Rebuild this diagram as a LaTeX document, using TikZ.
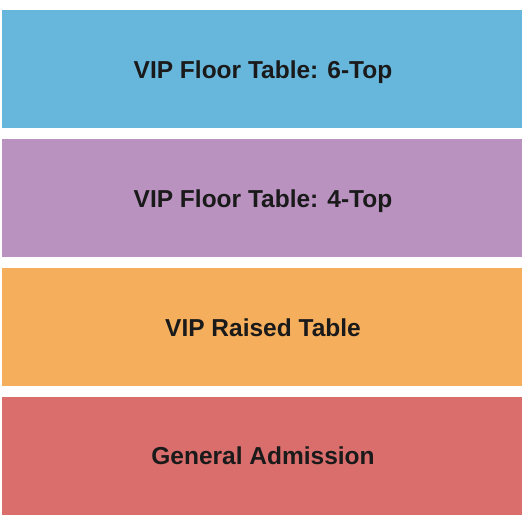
\documentclass[tikz,border=0pt]{standalone}
\usepackage{fontspec}
\setmainfont{Liberation Sans}
\definecolor{sixtop}{HTML}{67B6DC}
\definecolor{fourtop}{HTML}{B992C0}
\definecolor{raised}{HTML}{F5AE5C}
\definecolor{general}{HTML}{D96E6D}
\definecolor{labeltext}{HTML}{1A1A1A}
\begin{document}
\begin{tikzpicture}[x=1pt,y=-1pt,
    section/.style={draw=none,minimum width=520pt,minimum height=118pt,inner sep=0pt,
      text=labeltext,font=\fontsize{24.5}{28}\selectfont\bfseries}]
      \useasboundingbox (0,0) rectangle (525,525);
      \node [section,fill=sixtop] (sixtop) at (262,69) {};
      \node [section,fill=fourtop] (fourtop) at (262,198) {};
      \node [section,fill=raised] (raised) at (262,327) {};
      \node [section,fill=general] (general) at (262,455.5) {};
      \node [section,minimum width=0pt,minimum height=0pt,anchor=base] (sixtoplabel) at (263,78) {VIP Floor Table: 6-Top};
      \node [section,minimum width=0pt,minimum height=0pt,anchor=base] (fourtoplabel) at (263,207) {VIP Floor Table: 4-Top};
      \node [section,minimum width=0pt,minimum height=0pt,anchor=base] (raisedlabel) at (263,336) {VIP Raised Table};
      \node [section,minimum width=0pt,minimum height=0pt,anchor=base] (generallabel) at (263,464.5) {General Admission};
    \end{tikzpicture}
\end{document}
